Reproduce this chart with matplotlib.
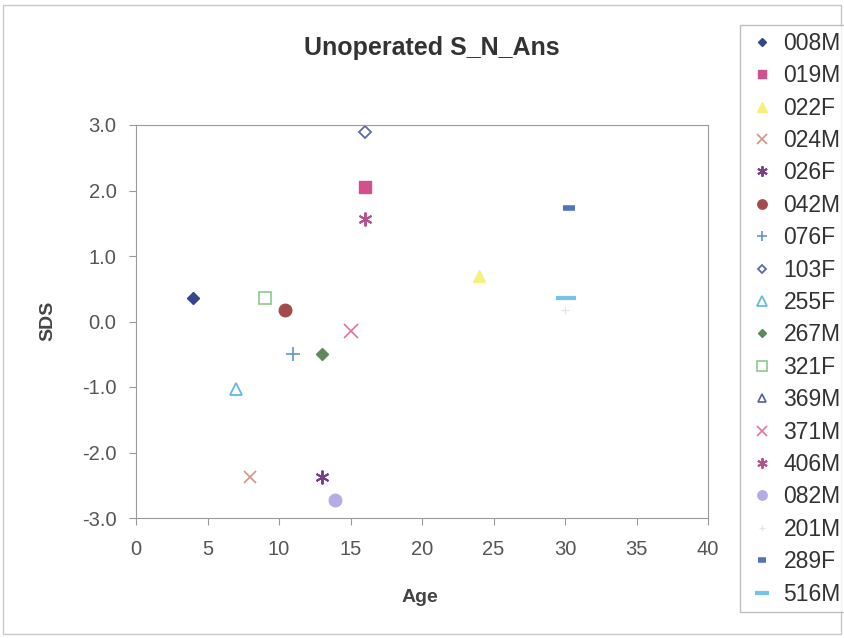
import matplotlib.pyplot as plt
from matplotlib.patches import Rectangle

plt.rcParams['font.family'] = ['Liberation Sans', 'DejaVu Sans']

# Data
names = ["008M", "019M", "022F", "024M", "026F", "042M", "076F", "103F", "255F",
         "267M", "321F", "369M", "371M", "406M", "082M", "201M", "289F", "516M"]
ages = [4.0, 16.0, 24.0, 8.0, 13.0, 10.4, 11.0, 16.0, 7.0,
        13.0, 9.0, None, 15.0, 16.0, 13.9, 30.0, 30.3, 30.1]
sds = [0.36, 2.05, 0.70, -2.37, -2.37, 0.18, -0.49, 2.90, -1.03,
       -0.49, 0.36, None, -0.14, 1.56, -2.72, 0.18, 1.74, 0.36]

# Marker styles per series: (marker, face, edge, size, edge width)
styles = [
    ("D", "#34468c", "#34468c", 6, 1),
    ("s", "#d2508c", "#d2508c", 8, 1),
    ("^", "#f6f07c", "#f6f07c", 9, 1),
    ("x", "#d49484", "#d49484", 9, 1.2),
    ((6, 2, 0), "#7a3c8c", "#7a3c8c", 10, 1.4),
    ("o", "#a44a4a", "#a44a4a", 9, 1),
    ("+", "#6096c8", "#6096c8", 10, 1.2),
    ("D", "none", "#5a6aaa", 6, 1.3),
    ("^", "none", "#68b8e2", 9, 1.3),
    ("D", "#5c8a5c", "#5c8a5c", 6, 1),
    ("s", "none", "#8ec88e", 9, 1.2),
    ("^", "none", "#5060a0", 8, 1.2),
    ("x", "#e47494", "#e47494", 10, 1.2),
    ((6, 2, 0), "#b4508c", "#b4508c", 10, 1.4),
    ("o", "#b4ace4", "#b4ace4", 9, 1),
    ("+", "#e4e4ec", "#e4e4ec", 6, 0.8),
    ("_", "#5474ba", "#5474ba", 8, 4),
    ("_", "#74c4ea", "#74c4ea", 14, 3),
]

W, H = 844, 638
fig = plt.figure(figsize=(W / 100, H / 100), dpi=100)
fig.patch.set_facecolor("white")
fig.patches.append(Rectangle((0.004, 0.006), 0.992, 0.986, transform=fig.transFigure,
                             fill=False, edgecolor="#c8c8c8", linewidth=1))

ax = fig.add_axes([136 / W, 1 - 518 / H, 572 / W, 393 / H])
ax.set_facecolor("white")

handles = []
for name, x, y, st in zip(names, ages, sds, styles):
    m, fc, ec, ms, mew = st
    xs = [] if x is None else [x]
    ys = [] if y is None else [y]
    h, = ax.plot(xs, ys, linestyle="none", marker=m, markerfacecolor=fc,
                 markeredgecolor=ec, markersize=ms, markeredgewidth=mew, label=name)
    handles.append(h)

ax.set_xlim(0, 40)
ax.set_ylim(-3, 3)
ax.set_xticks(range(0, 41, 5))
ax.set_yticks([-3, -2, -1, 0, 1, 2, 3])
ax.set_yticklabels(["-3.0", "-2.0", "-1.0", "0.0", "1.0", "2.0", "3.0"])
for s in ax.spines.values():
    s.set_color("#9a9a9a")
ax.tick_params(colors="#9a9a9a", labelcolor="#555555", labelsize=14.5, length=5,
               direction="out")
ax.tick_params(axis="x", pad=11)
ax.tick_params(axis="y", pad=9)

fig.text(420 / W, 1 - 597 / H, "Age", ha="center", va="center",
         fontsize=14, fontweight="bold", color="#444444")
fig.text(48 / W, 1 - 321 / H, "SDS", ha="center", va="center", rotation=90,
         fontsize=14, fontweight="bold", color="#444444")
fig.text(432 / W, 1 - 48 / H, "Unoperated S_N_Ans", ha="center", va="center",
         fontsize=18, fontweight="bold", color="#333333")

leg = fig.legend(handles=handles, loc="upper left", bbox_to_anchor=(740 / W, 1 - 25 / H),
                 fontsize=16.5, frameon=True, fancybox=False, labelspacing=0.41,
                 handlelength=1.3, handletextpad=0.3, borderpad=0.3, markerscale=0.75,
                 labelcolor="#333333", borderaxespad=0)
leg.get_frame().set_edgecolor("#b0b0b0")
leg.get_frame().set_linewidth(1)

fig.savefig("out.png", dpi=100, facecolor="white")
